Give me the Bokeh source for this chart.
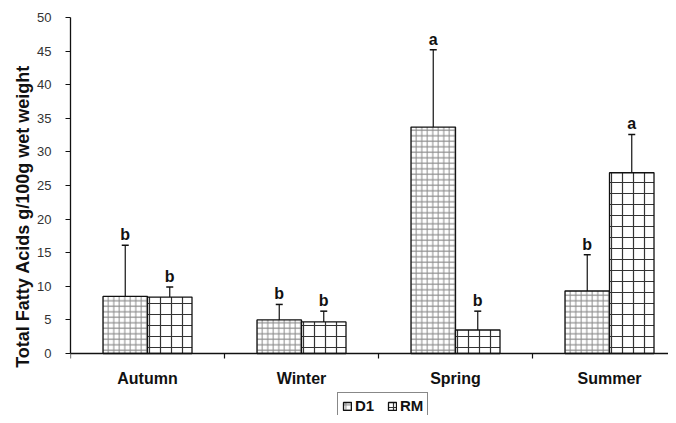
import numpy as np
from bokeh.plotting import figure
from bokeh.models import (ColumnDataSource, FixedTicker, Whisker, TeeHead, Legend,
                          LegendItem, Range1d, Title, Span)
from bokeh.core.properties import value
from bokeh.embed import file_html
from bokeh.resources import INLINE

seasons = ["Autumn", "Winter", "Spring", "Summer"]
d1_mean = [8.5, 5.0, 33.7, 9.3]
d1_err = [7.6, 2.3, 11.5, 5.4]
rm_mean = [8.4, 4.7, 3.5, 26.9]
rm_err = [1.5, 1.6, 2.8, 5.7]
d1_letters = ["b", "b", "a", "b"]
rm_letters = ["b", "b", "b", "a"]
y_ticks = list(range(0, 51, 5))

FONT = "Liberation Sans"
idx = np.arange(len(seasons))
bar_w = 0.289
centers = idx + 0.5

# layout (pixels inside the figure)
W, H = 668, 415
FRAME_LEFT, FRAME_TOP = 70, 17
PLOT_H = 336            # pixel height for 0..50
px_per_unit = PLOT_H / 50.0
below_px = H - FRAME_TOP - PLOT_H   # room under the zero line (axis labels + legend)

def make_src(means, errs, letters, shift):
    m = np.array(means, dtype=float)
    e = np.array(errs, dtype=float)
    return ColumnDataSource(dict(x=centers + shift, top=m, up=m + e, lab=letters))

src_d1 = make_src(d1_mean, d1_err, d1_letters, -bar_w / 2)
src_rm = make_src(rm_mean, rm_err, rm_letters, bar_w / 2)

p = figure(width=W, height=H, output_backend="svg", toolbar_location=None,
           x_range=Range1d(0, (W - FRAME_LEFT) / 154),
           y_range=Range1d(-below_px / px_per_unit, 50),
           min_border_left=FRAME_LEFT, min_border_right=0, min_border_top=FRAME_TOP,
           min_border_bottom=0)
p.outline_line_color = None
p.grid.visible = False
p.background_fill_color = "white"
p.border_fill_color = "white"
p.xaxis.visible = False

r_d1 = p.vbar(x="x", top="top", width=bar_w, bottom=0, source=src_d1,
              fill_color="white", line_color="#111", line_width=1.3,
              hatch_pattern="+", hatch_scale=5.5, hatch_color="#8a8a8a", hatch_weight=1)
r_rm = p.vbar(x="x", top="top", width=bar_w, bottom=0, source=src_rm,
              fill_color="white", line_color="#111", line_width=1.3,
              hatch_pattern="+", hatch_scale=11, hatch_color="#333333", hatch_weight=1.2)

for src in (src_d1, src_rm):
    w = Whisker(source=src, base="x", lower="top", upper="up", dimension="height",
                line_color="#111", line_width=1.2,
                upper_head=TeeHead(size=7, line_color="#111", line_width=1.5),
                lower_head=None)
    p.add_layout(w)
    p.text(x="x", y="up", text="lab", source=src, text_align="center",
           text_baseline="bottom", y_offset=-2, text_font=value(FONT),
           text_font_style="bold", text_font_size="16px", text_color="#111")

# category axis drawn by hand on the zero line
p.add_layout(Span(location=0, dimension="width", line_color="#111", line_width=1.3))
bounds = list(range(len(seasons) + 1))
p.ray(x=bounds, y=[0] * len(bounds), length=5, length_units="screen",
      angle=-np.pi / 2, line_color="#111", line_width=1.2)
p.text(x=list(centers), y=[0] * len(seasons), text=seasons, text_align="center",
       text_baseline="middle", y_offset=25, text_font=value(FONT),
       text_font_style="bold", text_font_size="16px", text_color="#111")

ya = p.yaxis[0]
ya.ticker = FixedTicker(ticks=y_ticks)
ya.bounds = (0, 50)
ya.major_tick_out = 5
ya.major_tick_in = 0
ya.minor_tick_out = 0
ya.minor_tick_in = 0
ya.axis_line_color = "#111"
ya.axis_line_width = 1.3
ya.major_tick_line_color = "#111"
ya.major_label_standoff = 14
ya.major_label_text_font = FONT
ya.major_label_text_font_size = "13px"
ya.major_label_text_color = "#333"

p.add_layout(Title(text="Total Fatty Acids g/100g wet weight", align="center", offset=0,
                   text_font=FONT, text_font_style="bold", text_font_size="18px",
                   text_color="#111", standoff=4), "left")

legend = Legend(items=[LegendItem(label="D1", renderers=[r_d1]),
                       LegendItem(label="RM", renderers=[r_rm])],
                location=(267, -4), orientation="horizontal",
                border_line_color="#111", border_line_width=1.3,
                background_fill_color="white", background_fill_alpha=1,
                label_text_font=FONT, label_text_font_style="bold",
                label_text_font_size="15px", label_text_color="#111",
                glyph_width=10, glyph_height=10, label_standoff=3, spacing=12,
                padding=4, margin=0, label_height=14)
p.add_layout(legend, "center")

open("out.html", "w").write(file_html(p, INLINE))
